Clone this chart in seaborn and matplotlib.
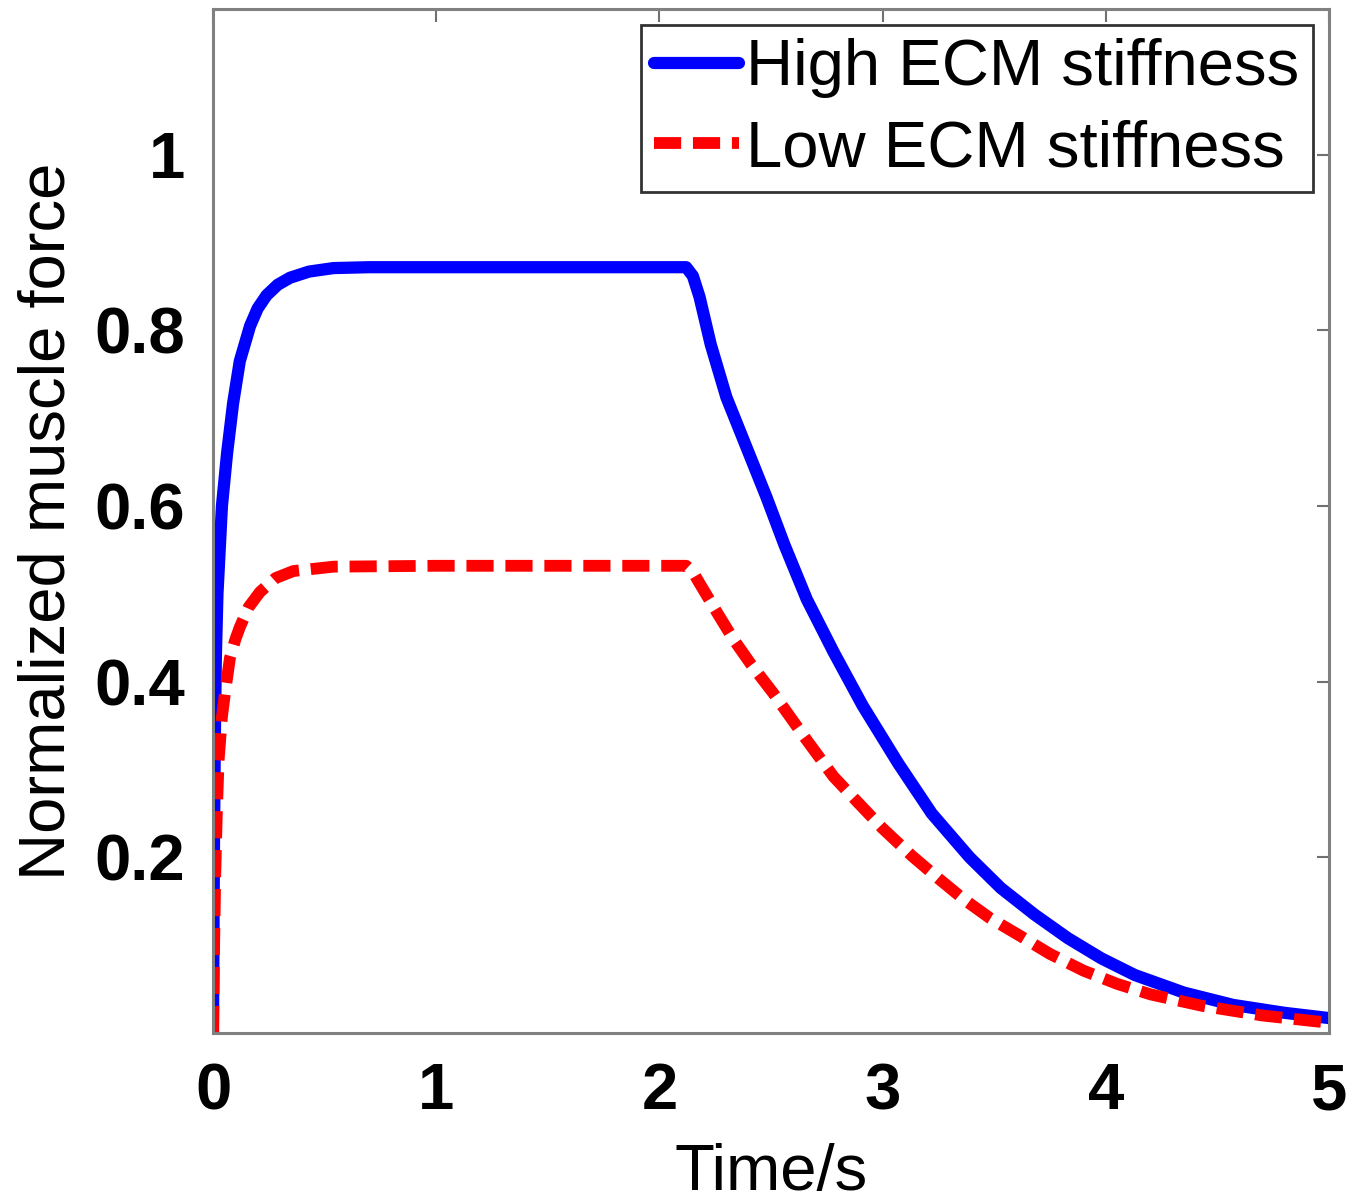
import numpy as np
import pandas as pd
import seaborn as sns
import matplotlib
matplotlib.use('Agg')
import matplotlib.pyplot as plt

# values
t_high = [0, 0.004, 0.008, 0.013, 0.02, 0.03, 0.04, 0.063, 0.09, 0.12, 0.166, 0.2, 0.24, 0.29, 0.345, 0.43,
          0.54, 0.7, 1.0, 2.12, 2.15, 2.18, 2.23, 2.30, 2.39, 2.48, 2.56, 2.66, 2.78, 2.91, 3.07, 3.22,
          3.39, 3.53, 3.68, 3.83, 3.98, 4.13, 4.35, 4.57, 4.80, 5.0]
f_high = [0, 0.20, 0.33, 0.43, 0.50, 0.55, 0.60, 0.66, 0.717, 0.765, 0.805, 0.825, 0.84, 0.852, 0.86, 0.867,
          0.871, 0.872, 0.872, 0.872, 0.862, 0.838, 0.784, 0.724, 0.667, 0.610, 0.556, 0.494, 0.434, 0.373, 0.307, 0.25,
          0.20, 0.165, 0.135, 0.108, 0.085, 0.066, 0.046, 0.032, 0.023, 0.017]

t_low = [0, 0.005, 0.01, 0.017, 0.025, 0.04, 0.055, 0.076, 0.1, 0.12, 0.16, 0.21, 0.28, 0.36, 0.54, 1.0,
         2.12, 2.15, 2.18, 2.26, 2.33, 2.41, 2.51, 2.65, 2.78, 2.88, 3.0, 3.13, 3.25, 3.36, 3.48,
         3.62, 3.75, 3.9, 4.05, 4.2, 4.43, 4.7, 4.95, 5.0]
f_low = [0, 0.10, 0.18, 0.25, 0.31, 0.36, 0.39, 0.427, 0.448, 0.462, 0.485, 0.502, 0.518, 0.526, 0.531, 0.532,
         0.532, 0.525, 0.512, 0.478, 0.449, 0.42, 0.387, 0.337, 0.292, 0.265, 0.233, 0.202, 0.176, 0.153, 0.131,
         0.11, 0.09, 0.071, 0.056, 0.044, 0.031, 0.02, 0.013, 0.012]

x_ticks = [0, 1, 2, 3, 4, 5]
y_ticks = [0.2, 0.4, 0.6, 0.8, 1]
y_tick_labels = ['0.2', '0.4', '0.6', '0.8', '1']

high = pd.DataFrame({'Time': t_high, 'Force': f_high})
low = pd.DataFrame({'Time': t_low, 'Force': f_low})

sns.set_style('white')
plt.rcParams['font.family'] = ['Liberation Sans', 'DejaVu Sans']
plt.rcParams['text.color'] = 'black'
plt.rcParams['axes.labelcolor'] = 'black'

fig = plt.figure(figsize=(13.63, 12.01), dpi=100)
ax = fig.add_axes([213/1363, 168/1201, (1329-213)/1363, (1033-9)/1201])

sns.lineplot(data=high, x='Time', y='Force', ax=ax, color='#0000ff', lw=8.8,
             estimator=None, sort=False, label='High ECM stiffness',
             solid_joinstyle='round')
sns.lineplot(data=low, x='Time', y='Force', ax=ax, color='#ff0000', lw=8.5,
             estimator=None, sort=False, label='Low ECM stiffness',
             dash_joinstyle='round')
ax.lines[1].set_dashes((2.3, 1.0))
ax.lines[1].set_dash_capstyle('butt')

ax.set_xlim(0, 5)
ax.set_ylim(0, 1.166)
ax.set_xticks(x_ticks)
ax.set_xticklabels([str(v) for v in x_ticks], fontweight='bold')
ax.set_yticks(y_ticks)
ax.set_yticklabels(y_tick_labels, fontweight='bold')
ax.tick_params(axis='both', direction='in', length=9, width=1.5, color='#707070',
               labelsize=47, top=True, right=True, labelcolor='black')
ax.tick_params(axis='x', pad=21)
ax.tick_params(axis='y', pad=20)
for s in ax.spines.values():
    s.set_color('#808080')
    s.set_linewidth(2.2)

ax.set_xlabel('Time/s', fontsize=47, labelpad=15, color='black')
ax.set_ylabel('Normalized muscle force', fontsize=47, labelpad=12, color='black')

leg = ax.legend(loc='upper right', fontsize=47, frameon=True, fancybox=False, framealpha=1,
                edgecolor='#333333', handlelength=1.3, handletextpad=0.12, labelspacing=0.32,
                borderpad=0.2, borderaxespad=0.25)
leg.get_frame().set_linewidth(2)
for txt in leg.get_texts():
    txt.set_color('black')

fig.savefig('out.png', dpi=100)
